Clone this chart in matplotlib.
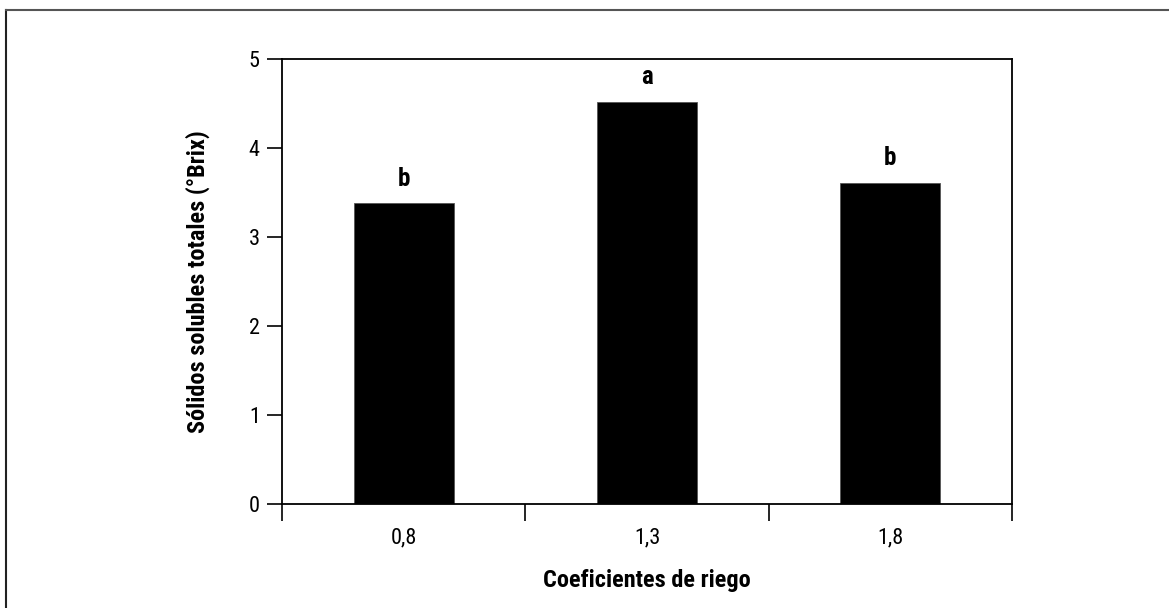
import numpy as np
import matplotlib
matplotlib.use("Agg")
import matplotlib.pyplot as plt
from matplotlib import font_manager
from matplotlib.lines import Line2D

# look for a condensed face, the reference uses a narrow sans
fam = 'DejaVu Sans'
stretch = 'normal'
names = set(f.name for f in font_manager.fontManager.ttflist)
for n in ['Liberation Sans Narrow', 'Roboto Condensed', 'Open Sans Condensed', 'DejaVu Sans Condensed']:
    if n in names:
        fam = n
        break
else:
    cond = [f for f in font_manager.fontManager.ttflist
            if f.stretch in ('condensed', 'semi-condensed', 'extra-condensed', 625, 750, 500, 'ultra-condensed')]
    if cond:
        fam = cond[0].name
        stretch = 'condensed'
plt.rcParams['font.family'] = [fam, 'DejaVu Sans']
plt.rcParams['font.stretch'] = stretch

categories = ['0,8', '1,3', '1,8']
values = [3.38, 4.52, 3.61]
letters = ['b', 'a', 'b']
yticks = [0, 1, 2, 3, 4, 5]

fig = plt.figure(figsize=(11.69, 6.08), dpi=100)
ax = fig.add_axes([282/1169, 1 - 504/608, (1012-282)/1169, (504-59)/608])

x = np.arange(len(categories))
ax.bar(x, values, width=0.41, color='black', edgecolor='#555555', linewidth=0.6)

for xi, v, l in zip(x, values, letters):
    ax.annotate(l, xy=(xi, v), xytext=(0, 9), textcoords='offset points',
                ha='center', va='bottom', fontsize=18, fontweight='bold')

ax.set_xlim(-0.5, 2.5)
ax.set_ylim(0, 5)
ax.set_yticks(yticks)
ax.set_yticklabels([str(t) for t in yticks], fontsize=16)

# ticks sit on category edges, labels in the middle
ax.set_xticks(np.arange(-0.5, 3.0, 1.0))
ax.set_xticklabels([])
ax.set_xticks(x, minor=True)
ax.set_xticklabels(categories, minor=True, fontsize=16)
ax.tick_params(axis='x', which='major', direction='out', length=12, width=1.2)
ax.tick_params(axis='x', which='minor', length=0, pad=17)
ax.tick_params(axis='y', direction='out', length=11, width=1.2, pad=5)

for s in ax.spines.values():
    s.set_linewidth(1.3)
    s.set_color('black')

ax.set_xlabel('Coeficientes de riego', fontsize=17.5, fontweight='bold', labelpad=15)
ax.set_ylabel('Sólidos solubles totales (°Brix)', fontsize=17.5, fontweight='bold', labelpad=28)

# outer frame, only left and top edges fall inside the picture
fig.add_artist(Line2D([6/1169, 6/1169], [0, 1 - 10/608], transform=fig.transFigure,
                      color='#222222', linewidth=1.5))
fig.add_artist(Line2D([6/1169, 1], [1 - 10/608, 1 - 10/608], transform=fig.transFigure,
                      color='#555555', linewidth=1.5))

fig.savefig('out.png', dpi=100)
